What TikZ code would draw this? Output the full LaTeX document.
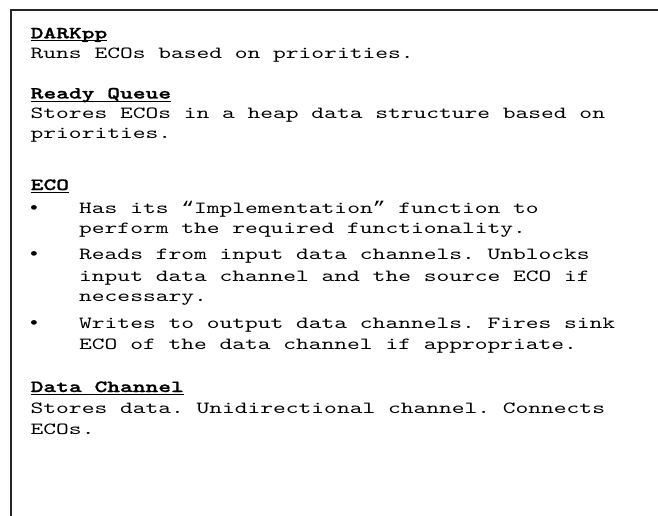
\documentclass[tikz,border=0pt]{standalone}
\usepackage{fontspec}
\setmonofont{lmmono10-regular}[Extension=.otf, FakeStretch=1.43,
  BoldFont=lmmonolt10-bold, BoldFeatures={FakeStretch=1.43, FakeBold=1.2}]
% curly quotes and bullets taken from a Courier-width face
\newfontfamily\symfont{Liberation Mono}[FakeStretch=1.255]
\newcommand{\notefont}{\fontsize{17}{20.5}\selectfont\ttfamily}
\newcommand{\openq}{{\symfont “}}
\newcommand{\closeq}{{\symfont ”}}
\newcommand{\bulletmark}{{\symfont •}}
\begin{document}
\begin{tikzpicture}[x=1pt, y=-1pt,
  txt/.style={anchor=base west, inner sep=0pt, font=\notefont},
  head/.style={txt, font=\notefont\bfseries},
  bul/.style={txt},
  frame/.style={line width=2pt, black!85},
  uline/.style={line width=1pt}]
\useasboundingbox (0,0) rectangle (658,516);

% open frame: top edge and left edge only
\draw[frame] (660,10) -- (11,10) -- (11,518);

% DARKpp
\node[head] (h1) at (30.5,38.3) {DARKpp};
\node[txt]  (l1) at (30.5,58.5) {Runs ECOs based on priorities.};

% Ready Queue
\node[head] (h2) at (30.5,98.5) {Ready Queue};
\node[txt]  (l2) at (30.5,119) {Stores ECOs in a heap data structure based on};
\node[txt]  (l3) at (30.5,139) {priorities.};

% ECO
\node[head] (h3) at (30.5,190) {ECO};
\node[bul]  (b1) at (27.5,213.3) {\bulletmark};
\node[txt]  (l4) at (79,213.3) {Has its \openq Implementation\closeq{} function to};
\node[txt]  (l5) at (79,233.3) {perform the required functionality.};
\node[bul]  (b2) at (27.5,259.5) {\bulletmark};
\node[txt]  (l6) at (79,259.5) {Reads from input data channels. Unblocks};
\node[txt]  (l7) at (79,281) {input data channel and the source ECO if};
\node[txt]  (l8) at (79,301) {necessary.};
\node[bul]  (b3) at (27.5,328.3) {\bulletmark};
\node[txt]  (l9) at (79,328.3) {Writes to output data channels. Fires sink};
\node[txt]  (l10) at (79,349.5) {ECO of the data channel if appropriate.};

% Data Channel
\node[head] (h4) at (30.5,392) {Data Channel};
\node[txt]  (l11) at (30.5,413.5) {Stores data. Unidirectional channel. Connects};
\node[txt]  (l12) at (30.5,434) {ECOs.};

% heading underlines
\foreach \h in {h1,h2,h3,h4}
  \draw[uline] ([yshift=-2.6pt]\h.base west) -- ([yshift=-2.6pt]\h.base east);
\end{tikzpicture}
\end{document}
